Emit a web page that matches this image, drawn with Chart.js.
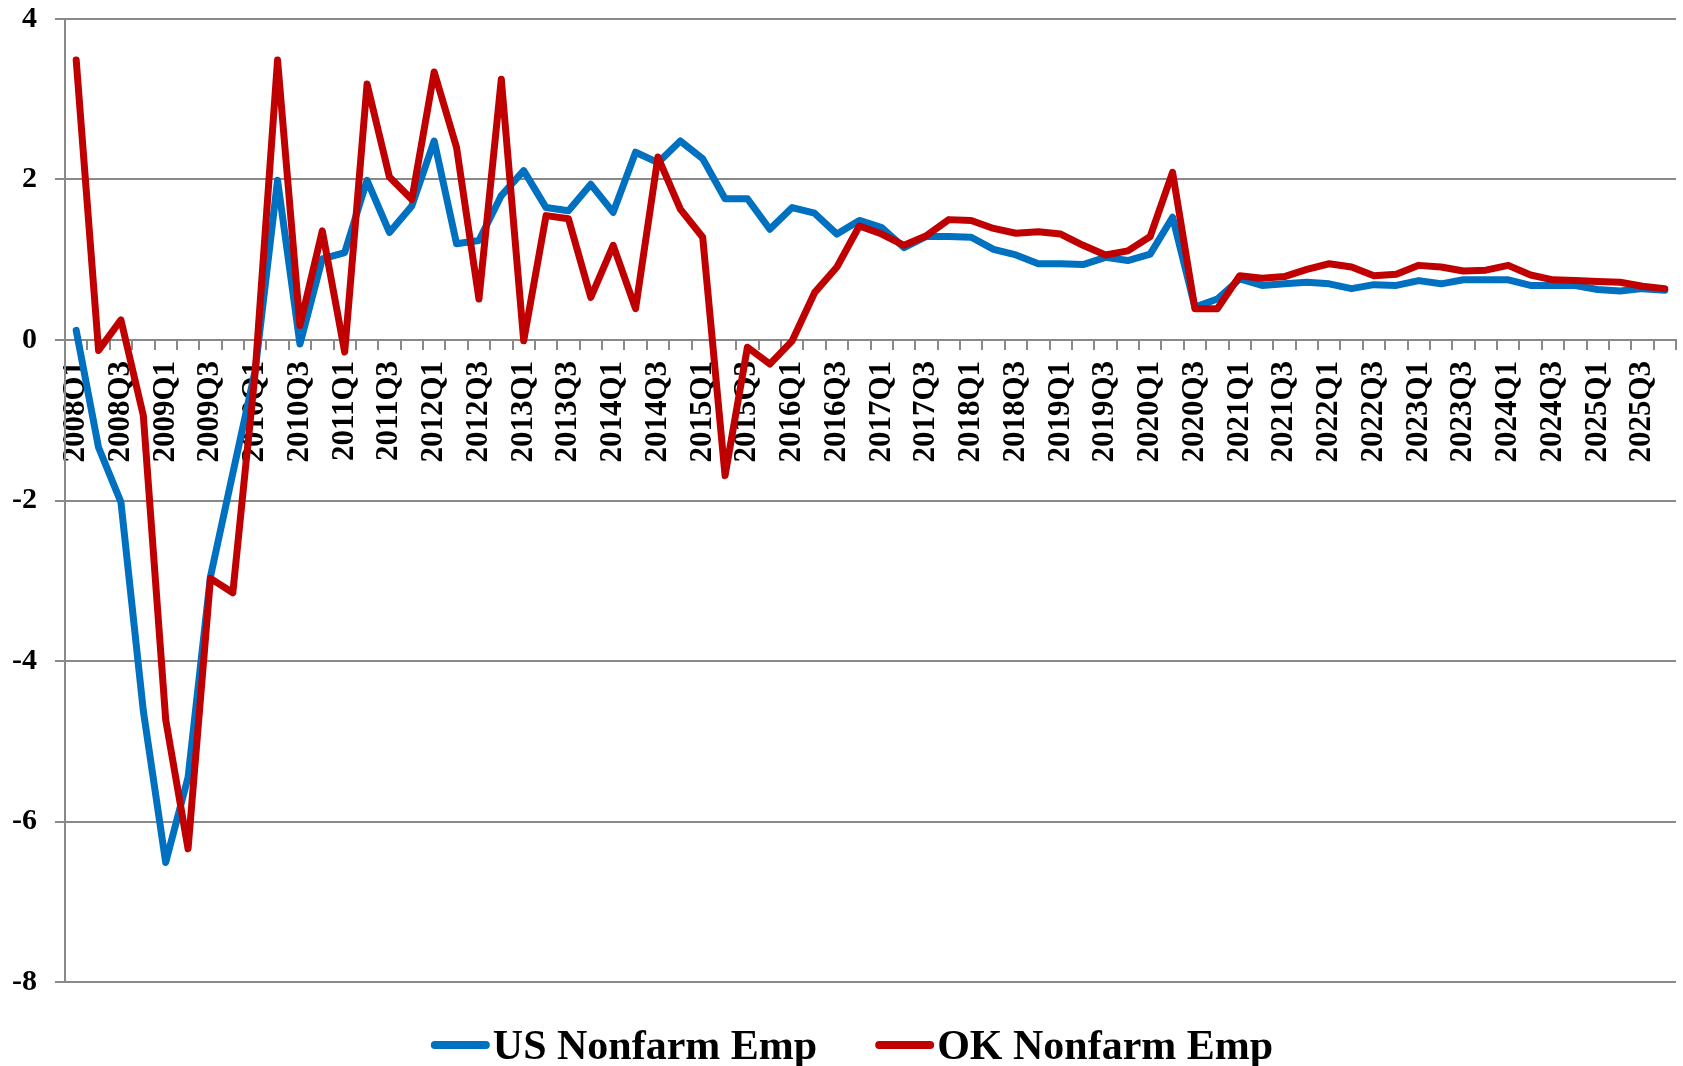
<!DOCTYPE html>
<html>
<head>
<meta charset="utf-8">
<title>US vs OK Nonfarm Emp</title>
<script src="https://cdn.jsdelivr.net/npm/chart.js@4"></script>
<style>
  html, body { margin: 0; padding: 0; background: #fff; }
  #wrap { width: 1683px; height: 1066px; }
</style>
</head>
<body>
<div id="wrap"><canvas id="myChart" width="1683" height="1066"></canvas></div>
<script>
// quarters 2008Q1 - 2025Q4
var quarters = [
  "2008Q1","2008Q2","2008Q3","2008Q4","2009Q1","2009Q2","2009Q3","2009Q4",
  "2010Q1","2010Q2","2010Q3","2010Q4","2011Q1","2011Q2","2011Q3","2011Q4",
  "2012Q1","2012Q2","2012Q3","2012Q4","2013Q1","2013Q2","2013Q3","2013Q4",
  "2014Q1","2014Q2","2014Q3","2014Q4","2015Q1","2015Q2","2015Q3","2015Q4",
  "2016Q1","2016Q2","2016Q3","2016Q4","2017Q1","2017Q2","2017Q3","2017Q4",
  "2018Q1","2018Q2","2018Q3","2018Q4","2019Q1","2019Q2","2019Q3","2019Q4",
  "2020Q1","2020Q2","2020Q3","2020Q4","2021Q1","2021Q2","2021Q3","2021Q4",
  "2022Q1","2022Q2","2022Q3","2022Q4","2023Q1","2023Q2","2023Q3","2023Q4",
  "2024Q1","2024Q2","2024Q3","2024Q4","2025Q1","2025Q2","2025Q3","2025Q4"
];

// US Nonfarm Emp
var usEmp = [
  0.12, -1.34, -2.02, -4.62, -6.51, -5.45, -2.95, -1.66,
  -0.38, 1.99, -0.05, 1.01, 1.09, 1.99, 1.34, 1.67,
  2.48, 1.20, 1.24, 1.80, 2.11, 1.65, 1.61, 1.94,
  1.59, 2.34, 2.21, 2.48, 2.26, 1.76, 1.76, 1.38,
  1.65, 1.58, 1.32, 1.49, 1.40, 1.15, 1.29, 1.29,
  1.28, 1.13, 1.06, 0.95, 0.95, 0.94, 1.03, 0.99,
  1.07, 1.53, 0.41, 0.51, 0.76, 0.68, 0.70, 0.72,
  0.70, 0.64, 0.69, 0.68, 0.74, 0.70, 0.75, 0.75,
  0.75, 0.68, 0.68, 0.68, 0.63, 0.61, 0.64, 0.62
];

// OK Nonfarm Emp
var okEmp = [
  3.49, -0.13, 0.25, -0.94, -4.73, -6.34, -2.97, -3.15,
  -0.40, 3.49, 0.18, 1.36, -0.15, 3.19, 2.03, 1.75,
  3.34, 2.40, 0.51, 3.25, -0.01, 1.55, 1.51, 0.53,
  1.18, 0.39, 2.28, 1.63, 1.28, -1.69, -0.09, -0.30,
  -0.01, 0.59, 0.91, 1.42, 1.32, 1.18, 1.30, 1.50,
  1.49, 1.39, 1.33, 1.35, 1.32, 1.18, 1.06, 1.11,
  1.29, 2.09, 0.39, 0.39, 0.80, 0.77, 0.79, 0.88,
  0.95, 0.91, 0.80, 0.82, 0.93, 0.91, 0.86, 0.87,
  0.93, 0.81, 0.75, 0.74, 0.73, 0.72, 0.67, 0.64
];

var seriesNames = ["US Nonfarm Emp", "OK Nonfarm Emp"];
var seriesColors = ["#0070C0", "#C00000"];

var yMin = -8;
var yMax = 4;
var yStep = 2;

var gridColor = "#898989";
var serif = '"Liberation Serif", "Times New Roman", serif';

// legend drawn by hand under the plot (swatch + bold text)
var bottomLegend = {
  id: "bottomLegend",
  afterDraw: function (chart) {
    var ctx = chart.ctx;
    var sets = chart.data.datasets;
    var swatch = 59;
    var gapText = 3;
    var gapItem = 58;
    ctx.save();
    ctx.font = "bold 42px " + serif;
    var total = 0;
    for (var i = 0; i < sets.length; i++) {
      total += swatch + gapText + ctx.measureText(sets[i].label).width;
      if (i < sets.length - 1) total += gapItem;
    }
    var x = 852 - total / 2;
    var y = 1045;
    for (var j = 0; j < sets.length; j++) {
      ctx.strokeStyle = sets[j].borderColor;
      ctx.lineWidth = 8;
      ctx.lineCap = "round";
      ctx.beginPath();
      ctx.moveTo(x + 4, y);
      ctx.lineTo(x + swatch - 4, y);
      ctx.stroke();
      ctx.fillStyle = "#000";
      ctx.textBaseline = "alphabetic";
      ctx.textAlign = "left";
      ctx.fillText(sets[j].label, x + swatch + gapText, 1059);
      x += swatch + gapText + ctx.measureText(sets[j].label).width + gapItem;
    }
    ctx.restore();
  }
};

// scales should not push the plot area in, layout padding does it
function noPadding(scale) {
  scale.paddingTop = 0;
  scale.paddingBottom = 0;
  scale.paddingLeft = 0;
  scale.paddingRight = 0;
}

var data = {
  labels: quarters,
  datasets: [
    {
      label: seriesNames[0],
      data: usEmp,
      borderColor: seriesColors[0],
      backgroundColor: seriesColors[0],
      borderWidth: 7,
      pointRadius: 0,
      tension: 0,
      borderJoinStyle: "round",
      borderCapStyle: "round",
      order: 2
    },
    {
      label: seriesNames[1],
      data: okEmp,
      borderColor: seriesColors[1],
      backgroundColor: seriesColors[1],
      borderWidth: 7,
      pointRadius: 0,
      tension: 0,
      borderJoinStyle: "round",
      borderCapStyle: "round",
      order: 1
    }
  ]
};

var config = {
  type: "line",
  data: data,
  options: {
    responsive: false,
    animation: false,
    layout: {
      padding: { top: 19, right: 7, bottom: 84, left: 0 }
    },
    plugins: {
      legend: { display: false },
      title: { display: false },
      tooltip: { enabled: false }
    },
    scales: {
      x: {
        type: "category",
        position: { y: 0 },
        offset: true,
        afterFit: noPadding,
        grid: {
          offset: true,
          drawOnChartArea: false,
          drawTicks: true,
          tickLength: 9,
          color: gridColor,
          lineWidth: 2
        },
        border: { display: true, color: gridColor, width: 2 },
        ticks: {
          autoSkip: false,
          minRotation: 90,
          maxRotation: 90,
          padding: 12,
          color: "#000",
          font: { family: serif, size: 31, weight: "bold" },
          callback: function (val, index) {
            // only Q1 and Q3 get a label
            return index % 2 === 0 ? this.getLabelForValue(val) : "";
          }
        }
      },
      y: {
        min: yMin,
        max: yMax,
        afterFit: function (scale) {
          noPadding(scale);
          scale.width = 65;
        },
        grid: {
          color: gridColor,
          lineWidth: 2,
          drawTicks: true,
          tickLength: 10
        },
        border: { display: true, color: gridColor, width: 2 },
        ticks: {
          stepSize: yStep,
          padding: 18,
          color: "#000",
          font: { family: serif, size: 30, weight: "bold" }
        }
      }
    }
  },
  plugins: [bottomLegend]
};

var myChart = new Chart(document.getElementById("myChart"), config);
</script>
</body>
</html>
